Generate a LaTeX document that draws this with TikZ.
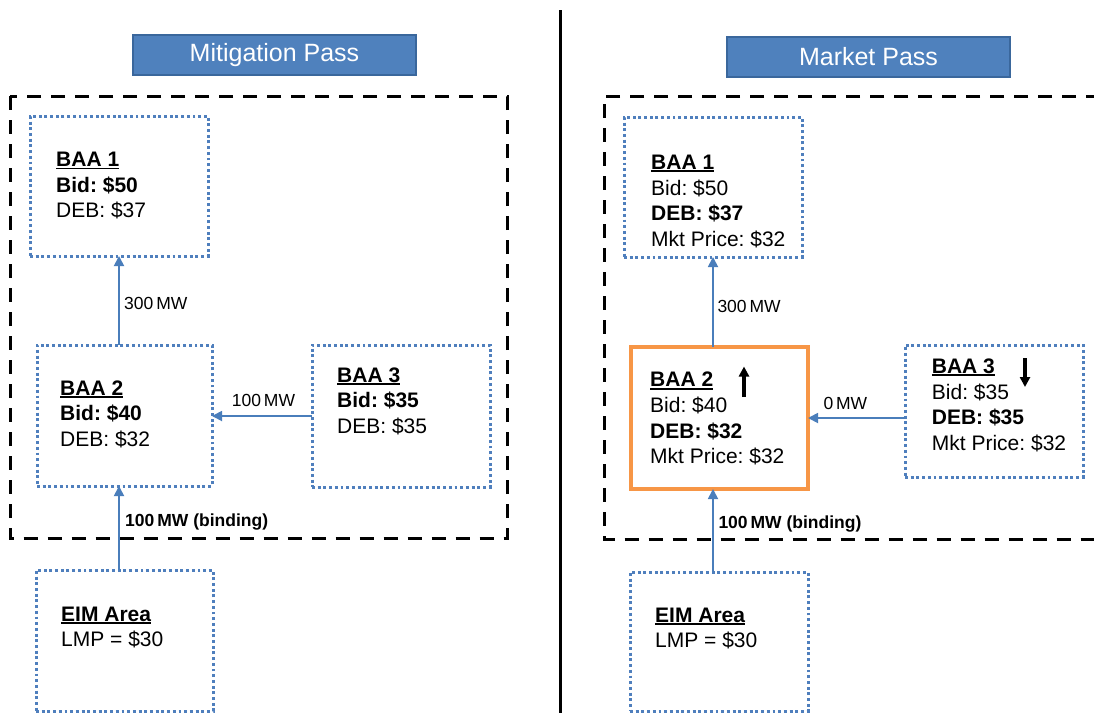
\documentclass[tikz,border=0pt]{standalone}
\usepackage{fontspec}
\setmainfont{Liberation Sans}
\usetikzlibrary{arrows.meta}
\definecolor{titlefill}{HTML}{4F81BD}
\definecolor{titleedge}{HTML}{3A679C}
\definecolor{dotblue}{HTML}{4F7FBD}
\definecolor{flowblue}{HTML}{4A7EBB}
\definecolor{hotorange}{HTML}{F79646}
\frenchspacing
\newcommand\ulbox[1]{\setbox0=\hbox{#1}\rlap{\rule[-2.8pt]{\wd0}{1.8pt}}\box0}
\newcommand\infotab[1]{\begin{tabular}[t]{@{}l@{}}#1\end{tabular}}
\tikzset{
  panel/.style={draw=black, line width=3pt, dash pattern=on 14pt off 10pt},
  areabox/.style={draw=dotblue, line width=3pt, dash pattern=on 2.9pt off 2.8pt,
    inner sep=0pt, outer sep=0pt},
  hotbox/.style={draw=hotorange, line width=3.8pt, inner sep=0pt, outer sep=0pt},
  titlebox/.style={fill=titlefill, draw=titleedge, line width=2pt, text=white,
    minimum width=283pt, minimum height=40pt, inner sep=0pt,
    font=\fontsize{25}{30}\selectfont},
  info/.style={anchor=base west, inner sep=0pt, font=\fontsize{21}{25.7}\selectfont},
  flowlbl/.style={anchor=base west, inner sep=0pt, font=\fontsize{17.5}{21}\selectfont},
  flow/.style={draw=flowblue, line width=1.8pt, -{Triangle[width=10pt,length=10pt]}},
  trend/.style={draw=black, line width=3.6pt, -{Triangle[width=10pt,length=10pt]}}
}
\begin{document}
\begin{tikzpicture}[x=1pt,y=-1pt]
\useasboundingbox (0,0) rectangle (1094,713);
\fill[white] (0,0) rectangle (1094,713);

% divider
\draw[line width=3.5pt] (560.5,10) -- (560.5,713);

% ---------------- Mitigation pass ----------------
\node[titlebox] (titleL) at (274.5,55.2) {Mitigation Pass};
\draw[panel] (10,96) rectangle (507,538.5);

\node[areabox, minimum width=178pt, minimum height=140pt] (baa1L) at (119,186) {};
\node[areabox, minimum width=175pt, minimum height=141pt] (baa2L) at (124.5,415.5) {};
\node[areabox, minimum width=178pt, minimum height=142pt] (baa3L) at (401,416) {};
\node[areabox, minimum width=177pt, minimum height=141pt] (eimL) at (124.5,640.5) {};

\node[info] (t1L) at (56,166.5) {\infotab{\ulbox{\textbf{BAA 1}}\\ \textbf{Bid: \$50}\\ DEB: \$37}};
\node[info] (t2L) at (60,395) {\infotab{\ulbox{\textbf{BAA 2}}\\ \textbf{Bid: \$40}\\ DEB: \$32}};
\node[info] (t3L) at (337,382) {\infotab{\ulbox{\textbf{BAA 3}}\\ \textbf{Bid: \$35}\\ DEB: \$35}};
\node[info] (teL) at (61,621) {\infotab{\ulbox{\textbf{EIM Area}}\\ LMP = \$30}};

\draw[flow] (baa1L.south |- baa2L.north) -- (baa1L.south);
\draw[flow] (baa3L.west) -- (baa3L.west -| baa2L.east);
\draw[flow] (baa1L.south |- eimL.north) -- (baa1L.south |- baa2L.south);

\node[flowlbl] (l300L) at (124,309) {300\,MW};
\node[flowlbl] (l100L) at (231.7,406.7) {100\,MW};
\node[flowlbl] (lbindL) at (125,526.7) {\textbf{100\,MW (binding)}};

% ---------------- Market pass ----------------
\node[titlebox] (titleR) at (868.5,57) {Market Pass};
\draw[panel] (1100,96) -- (604,96) -- (604,539.5) -- (1100,539.5);

\node[areabox, minimum width=178pt, minimum height=140pt] (baa1R) at (713,187) {};
\node[hotbox, minimum width=177pt, minimum height=142pt] (baa2R) at (719.5,418) {};
\node[areabox, minimum width=178pt, minimum height=132pt] (baa3R) at (994,411) {};
\node[areabox, minimum width=178pt, minimum height=139pt] (eimR) at (719,641.5) {};

\node[info] (t1R) at (651,169.3) {\infotab{\ulbox{\textbf{BAA 1}}\\ Bid: \$50\\ \textbf{DEB: \$37}\\ Mkt Price: \$32}};
\node[info] (t2R) at (650,386.7) {\infotab{\ulbox{\textbf{BAA 2}}\\ Bid: \$40\\ \textbf{DEB: \$32}\\ Mkt Price: \$32}};
\node[info] (t3R) at (931.7,373.3) {\infotab{\ulbox{\textbf{BAA 3}}\\ Bid: \$35\\ \textbf{DEB: \$35}\\ Mkt Price: \$32}};
\node[info] (teR) at (655,622) {\infotab{\ulbox{\textbf{EIM Area}}\\ LMP = \$30}};

\draw[flow] (baa1R.south |- baa2R.north) -- (baa1R.south);
\draw[flow] (baa3R.west |- baa2R.east) -- (baa2R.east);
\draw[flow] (baa1R.south |- eimR.north) -- (baa1R.south |- baa2R.south);

\node[flowlbl] (l300R) at (717.3,312.3) {300\,MW};
\node[flowlbl] (l0R) at (823.3,409) {0\,MW};
\node[flowlbl] (lbindR) at (718.3,528.3) {\textbf{100\,MW (binding)}};

% price movement arrows
\coordinate (upA) at (744,397);
\coordinate (upB) at (744,366.5);
\coordinate (dnA) at (1025,358);
\coordinate (dnB) at (1025,387);
\draw[trend] (upA) -- (upB);
\draw[trend] (dnA) -- (dnB);
\end{tikzpicture}
\end{document}
